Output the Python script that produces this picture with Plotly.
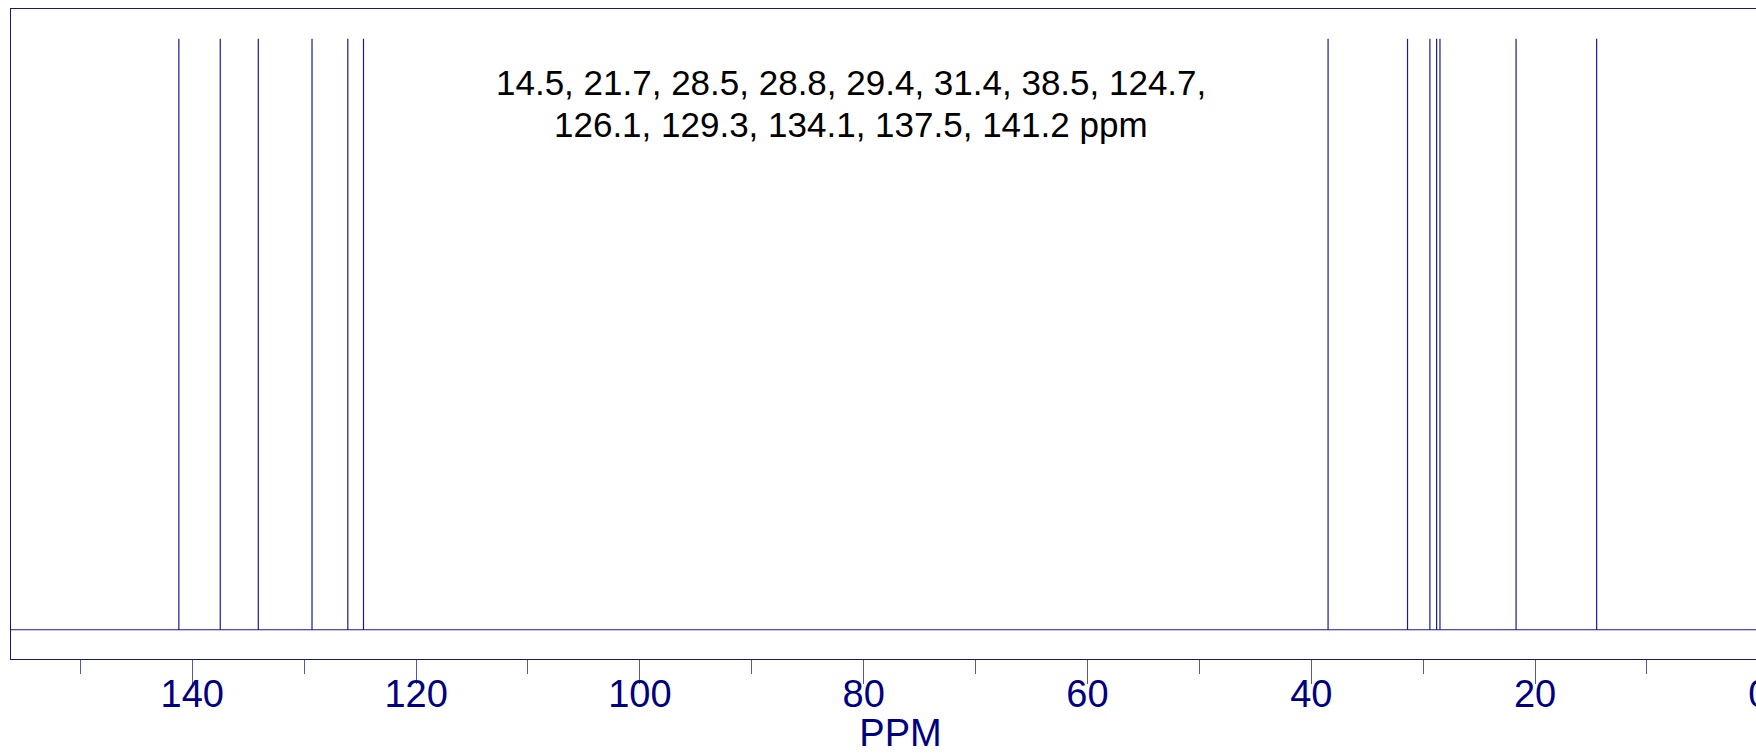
import plotly.graph_objects as go

# Peak positions (ppm)
peaks = [14.5, 21.7, 28.5, 28.8, 29.4, 31.4, 38.5, 124.7, 126.1, 129.3, 134.1, 137.5, 141.2]
peak_heights = [1.0] * len(peaks)
baseline = 0.0
x_range = [156.2, -2.78]
tick_vals = [140, 120, 100, 80, 60, 40, 20, 0]
tick_text = ["140", "120", "100", "80", "60", "40", "20", "0"]
label_lines = ["14.5, 21.7, 28.5, 28.8, 29.4, 31.4, 38.5, 124.7,",
               "126.1, 129.3, 134.1, 137.5, 141.2 ppm"]

# stick spectrum path built from the peak list
xs = [x_range[0]]
ys = [baseline]
for p, h in sorted(zip(peaks, peak_heights), reverse=True):
    xs += [p, p, p]
    ys += [baseline, h, baseline]
xs.append(x_range[1])
ys.append(baseline)

LINE = "#1a1a96"
AXIS = "#16167e"
TXT = "#000080"
FONT = "Liberation Sans, Arial, sans-serif"

fig = go.Figure()
fig.add_trace(go.Scatter(x=xs, y=ys, mode="lines",
                         line=dict(color=LINE, width=1.2),
                         hoverinfo="skip", showlegend=False))

for line_text, ypos in zip(label_lines, [0.887, 0.823]):
    fig.add_annotation(text=line_text, xref="x", yref="paper",
                       x=81.1, y=ypos, xanchor="center", yanchor="middle",
                       showarrow=False, align="center",
                       font=dict(family=FONT, size=35, color="black"))

fig.update_layout(
    width=1790, height=754,
    margin=dict(l=11, r=0, t=9, b=95),
    paper_bgcolor="white", plot_bgcolor="white",
    font=dict(family=FONT, color=TXT),
    xaxis=dict(range=x_range, showgrid=False, zeroline=False,
               showline=True, linecolor=AXIS, linewidth=1.3, mirror=True,
               ticks="outside", ticklen=24, tickwidth=1, tickcolor="#5555aa",
               tickvals=tick_vals, ticktext=tick_text,
               tickfont=dict(size=38, color=TXT),
               ticklabelstandoff=-23,
               minor=dict(dtick=10, tick0=0, ticks="outside", ticklen=14, tickwidth=1,
                          tickcolor="#5555aa", showgrid=False),
               title=dict(text="PPM", font=dict(size=38, color=TXT), standoff=14)),
    yaxis=dict(range=[-0.0495, 1.0505], showgrid=False, zeroline=False,
               showline=True, linecolor=AXIS, linewidth=1.3, mirror=True,
               showticklabels=False, ticks=""),
)

fig.write_html("out.html", config={"responsive": False, "displayModeBar": False},
               post_script="document.body.style.margin='0';"
                           "document.body.style.overflow='hidden';"
                           "document.documentElement.style.overflow='hidden';")
